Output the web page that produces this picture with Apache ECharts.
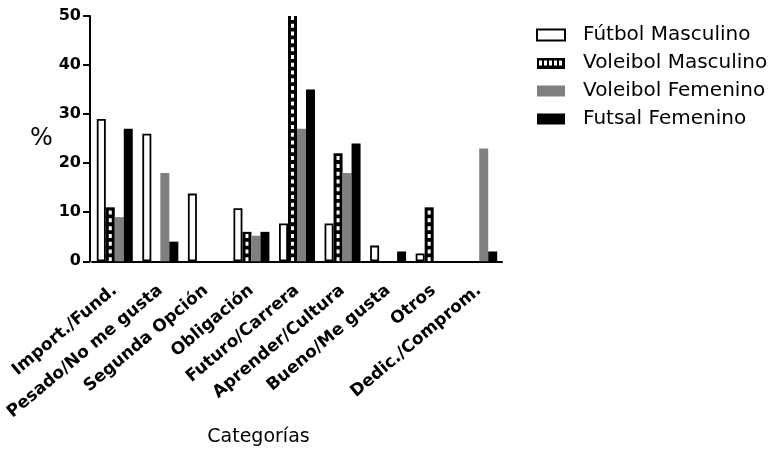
<!DOCTYPE html>
<html>
<head>
<meta charset="utf-8">
<script src="https://cdn.jsdelivr.net/npm/echarts@6/dist/echarts.min.js"></script>
<style>html,body{margin:0;padding:0;background:#fff;}#c{width:773px;height:452px;}</style>
</head>
<body>
<div id="c"></div>
<script>
const categories = ['Import./Fund.', 'Pesado/No me gusta', 'Segunda Opción', 'Obligación', 'Futuro/Carrera', 'Aprender/Cultura', 'Bueno/Me gusta', 'Otros', 'Dedic./Comprom.'];
const seriesNames = ['Fútbol Masculino', 'Voleibol Masculino', 'Voleibol Femenino', 'Futsal Femenino'];
const futbolMasc = [29, 26, 13.8, 10.8, 7.7, 7.7, 3.2, 1.6, 0];
const voleibolMasc = [11, 0, 0, 6, 50, 22, 0, 11, 0];
const voleibolFem = [9, 18, 0, 5.2, 27, 18, 0, 0, 23];
const futsalFem = [27, 4, 0, 6, 35, 24, 2, 0, 2];
const yTicks = [0, 10, 20, 30, 40, 50];

// zero values draw no bar (as in the reference)
const nz = arr => arr.map(v => (v === 0 ? null : v));

// legend icon for the checkered series
const ic = document.createElement('canvas');
ic.width = 28; ic.height = 11;
const g = ic.getContext('2d');
g.fillStyle = '#000'; g.fillRect(0, 0, 28, 11);
g.fillStyle = '#fff';
for (let x = 2; x < 26; x += 5) { g.fillRect(x, 3, 3, 5); }
const checkIcon = 'image://' + ic.toDataURL();

const font = 'DejaVu Sans';
const chart = echarts.init(document.getElementById('c'));
const BW = 9;
chart.setOption({
  animation: false,
  backgroundColor: '#fff',
  grid: { left: 92, right: 271, top: 16, bottom: 188, containLabel: false },
  legend: {
    orient: 'vertical', left: 531, top: 20,
    itemWidth: 28, itemHeight: 11, itemGap: 8, icon: 'rect',
    textStyle: { fontFamily: font, fontSize: 20, color: '#000', padding: [0, 0, 0, 13] },
    data: [
      { name: seriesNames[0] },
      { name: seriesNames[1], icon: checkIcon },
      { name: seriesNames[2] },
      { name: seriesNames[3] }
    ],
    selectedMode: false
  },
  xAxis: {
    type: 'category', data: categories,
    name: 'Categorías', nameLocation: 'middle', nameGap: 162,
    nameTextStyle: { fontFamily: font, fontSize: 19, color: '#000', padding: [0, 77, 0, 0] },
    axisLine: { lineStyle: { color: '#000', width: 2 } },
    axisTick: { alignWithLabel: true, length: 6, lineStyle: { color: '#000', width: 2 } },
    axisLabel: { interval: 0, rotate: 40, margin: 27, fontFamily: font, fontWeight: 'bold', fontSize: 17, color: '#000' },
    splitLine: { show: false }
  },
  yAxis: {
    type: 'value', min: yTicks[0], max: yTicks[yTicks.length - 1], interval: 10, offset: 2,
    name: '%', nameLocation: 'middle', nameRotate: 0, nameGap: 34,
    nameTextStyle: { fontFamily: font, fontSize: 24, color: '#000' },
    axisLine: { show: true, lineStyle: { color: '#000', width: 2 } },
    axisTick: { show: true, length: 7, lineStyle: { color: '#000', width: 2 } },
    axisLabel: { margin: 9, fontFamily: font, fontWeight: 'bold', fontSize: 16, color: '#000' },
    splitLine: { show: false }
  },
  series: [
    { name: seriesNames[0], type: 'bar', data: nz(futbolMasc), barWidth: BW, barGap: '0%',
      itemStyle: { color: '#fff', borderColor: '#000', borderWidth: 1.8 } },
    { name: seriesNames[1], type: 'bar', data: nz(voleibolMasc), barWidth: BW, barGap: '0%',
      itemStyle: { color: '#000', borderColor: '#000', borderWidth: 0 } },
    { name: seriesNames[2], type: 'bar', data: nz(voleibolFem), barWidth: BW, barGap: '0%',
      itemStyle: { color: '#808080' } },
    { name: seriesNames[3], type: 'bar', data: nz(futsalFem), barWidth: BW, barGap: '0%',
      itemStyle: { color: '#000' } },
    { name: 'checker', type: 'pictorialBar', data: nz(voleibolMasc), z: 5,
      symbol: 'rect', symbolSize: [3, 4], symbolRepeat: true, symbolMargin: 2,
      symbolClip: true, symbolOffset: [-BW / 2, 0],
      itemStyle: { color: '#fff' }, silent: true }
  ]
});
</script>
</body>
</html>
